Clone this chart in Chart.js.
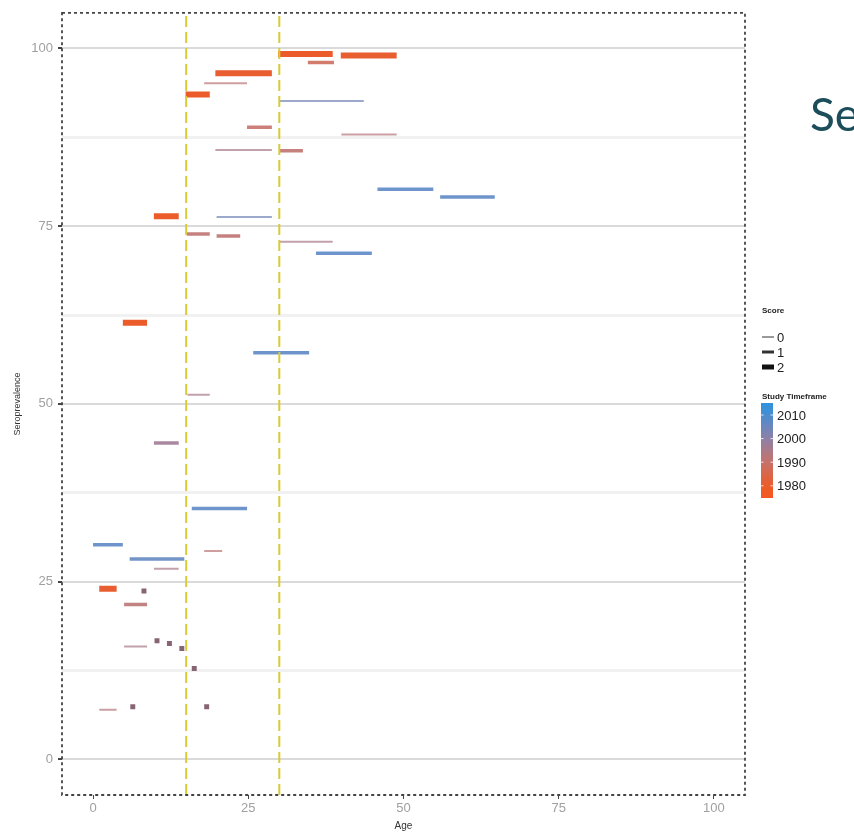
<!DOCTYPE html>
<html>
<head>
<meta charset="utf-8">
<script src="https://cdn.jsdelivr.net/npm/chart.js@4.4.0/dist/chart.umd.min.js"></script>
<style>
  html, body { margin: 0; padding: 0; background: #fff; }
  #wrap { position: relative; width: 854px; height: 834px; overflow: hidden; }
</style>
</head>
<body>
<div id="wrap"><canvas id="seroChart" width="854" height="834"></canvas></div>
<script>
// --- data ---
// one horizontal segment per age band of a study
const ageStart  = [29.8, 39.9, 34.6, 19.7, 17.9, 14.9, 30.1, 24.8, 40.0, 19.7, 30.0, 45.8, 55.9, 9.8, 19.9, 15.1, 19.9, 30.1, 35.9, 4.8, 25.8, 15.2, 9.8, 15.9, 0.0, 17.9, 5.9, 9.8, 1.0, 5.0, 5.0, 1.0];
const ageEnd    = [38.6, 48.9, 38.8, 28.8, 24.8, 18.8, 43.6, 28.8, 48.9, 28.8, 33.8, 54.8, 64.7, 13.8, 28.8, 18.8, 23.7, 38.6, 44.9, 8.7, 34.8, 18.8, 13.8, 24.8, 4.8, 20.8, 14.7, 13.8, 3.8, 8.7, 8.7, 3.8];
const seroprev  = [99.2, 99.0, 98.0, 96.5, 95.1, 93.5, 92.6, 88.9, 87.9, 85.7, 85.6, 80.2, 79.1, 76.4, 76.3, 73.9, 73.6, 72.8, 71.2, 61.4, 57.2, 51.3, 44.5, 35.3, 30.2, 29.3, 28.2, 26.8, 24.0, 21.8, 15.9, 7.0];
const score     = [2, 2, 1, 2, 0, 2, 0, 1, 0, 0, 1, 1, 1, 2, 0, 1, 1, 0, 1, 2, 1, 0, 1, 1, 1, 0, 1, 0, 2, 1, 0, 0];
const studyYear = [1980, 1981, 1988, 1981, 1992, 1980, 2004, 1990, 1993, 1995, 1991, 2007, 2007, 1980, 2004, 1991, 1991, 1995, 2007, 1980, 2007, 1995, 1997, 2007, 2007, 1992, 2006, 1995, 1981, 1992, 1995, 1993];

// single-age estimates (drawn as dots)
const pointAge  = [8.2, 10.3, 12.3, 14.3, 16.3, 6.4, 18.3];
const pointSero = [23.7, 16.7, 16.3, 15.6, 12.8, 7.4, 7.4];
const pointYear = [1996, 1996, 1996, 1996, 1996, 1996, 1996];

const cutoffAges = [15, 30];
const majorTicks = [0, 25, 50, 75, 100];
const minorTicks = [12.5, 37.5, 62.5, 87.5];
const scoreLevels = [0, 1, 2];
const yearLabels = [2010, 2000, 1990, 1980];

// --- styling helpers ---
const FONT = "'Liberation Sans', Arial, sans-serif";
const colourStops = [
  [1975, [242, 88, 32]],
  [1980, [236, 92, 42]],
  [1990, [198, 114, 106]],
  [2000, [142, 128, 166]],
  [2010, [72, 141, 210]],
  [2016, [40, 148, 222]]
];
function yearColour(y, alpha = 1, shade = 1) {
  let i = 0;
  while (i < colourStops.length - 2 && y > colourStops[i + 1][0]) i++;
  const [y0, c0] = colourStops[i], [y1, c1] = colourStops[i + 1];
  const t = Math.max(0, Math.min(1, (y - y0) / (y1 - y0)));
  const c = c0.map((v, k) => Math.round((v + (c1[k] - v) * t) * shade));
  return `rgba(${c[0]},${c[1]},${c[2]},${alpha})`;
}
const scoreWidth = s => [2, 3.5, 6][s];
const scoreAlpha = s => [0.7, 0.9, 1][s];

// --- datasets ---
const segmentSets = ageStart.map((a, i) => ({
  data: [{ x: a, y: seroprev[i] }, { x: ageEnd[i], y: seroprev[i] }],
  showLine: true,
  borderColor: yearColour(studyYear[i], scoreAlpha(score[i])),
  borderWidth: scoreWidth(score[i]),
  borderCapStyle: 'butt',
  pointRadius: 0,
  order: 2 - score[i]
}));

const pointSet = {
  data: pointAge.map((a, i) => ({ x: a, y: pointSero[i] })),
  pointStyle: 'rect',
  pointRadius: 3.5,
  pointBackgroundColor: pointYear.map(y => yearColour(y, 1, 0.82)),
  pointBorderWidth: 0,
  showLine: false
};

const cutoffSets = cutoffAges.map(a => ({
  data: [{ x: a, y: -5 }, { x: a, y: 105 }],
  showLine: true,
  borderColor: '#d9cb35',
  borderWidth: 2,
  borderDash: [11, 5],
  pointRadius: 0,
  order: -1
}));

// frame, axis titles, legend and the cut-off heading
const decorPlugin = {
  id: 'decor',
  afterDraw(chart) {
    const ctx = chart.ctx;
    const a = chart.chartArea;
    ctx.save();

    // dashed panel border
    ctx.strokeStyle = '#444';
    ctx.lineWidth = 1.8;
    ctx.setLineDash([3, 3]);
    ctx.strokeRect(a.left, a.top, a.right - a.left, a.bottom - a.top);
    ctx.setLineDash([]);

    // axis titles
    ctx.fillStyle = '#333';
    ctx.textAlign = 'center';
    ctx.textBaseline = 'middle';
    ctx.font = `10px ${FONT}`;
    ctx.fillText('Age', (chart.scales.x.getPixelForValue(50)), 826);
    ctx.save();
    ctx.translate(18, (a.top + a.bottom) / 2);
    ctx.rotate(-Math.PI / 2);
    ctx.font = `9px ${FONT}`;
    ctx.fillText('Seroprevalence', 0, 0);
    ctx.restore();

    // score legend
    ctx.textAlign = 'left';
    ctx.fillStyle = '#222';
    ctx.font = `bold 8px ${FONT}`;
    ctx.fillText('Score', 762, 311);
    scoreLevels.forEach((s, i) => {
      const y = 337 + i * 15;
      ctx.strokeStyle = ['#777', '#333', '#111'][s];
      ctx.lineWidth = [1.5, 3, 5][s];
      ctx.beginPath();
      ctx.moveTo(762, y);
      ctx.lineTo(774, y);
      ctx.stroke();
      ctx.font = `13px ${FONT}`;
      ctx.fillText(String(s), 777, y + 1);
    });

    // colour bar legend
    ctx.font = `bold 8px ${FONT}`;
    ctx.fillText('Study Timeframe', 762, 397);
    const barTop = 403, barBot = 498, barX = 761, barW = 12;
    const yOf = yr => 415 + (2010 - yr) * 2.36;
    const yrTop = 2010 + (415 - barTop) / 2.36, yrBot = 2010 - (barBot - 415) / 2.36;
    const grad = ctx.createLinearGradient(0, barTop, 0, barBot);
    for (let k = 0; k <= 10; k++) {
      grad.addColorStop(k / 10, yearColour(yrTop + (yrBot - yrTop) * k / 10));
    }
    ctx.fillStyle = grad;
    ctx.fillRect(barX, barTop, barW, barBot - barTop);
    ctx.strokeStyle = 'rgba(255,255,255,0.8)';
    ctx.lineWidth = 1;
    yearLabels.forEach(yr => {
      const y = yOf(yr);
      ctx.beginPath();
      ctx.moveTo(barX, y); ctx.lineTo(barX + 2.5, y);
      ctx.moveTo(barX + barW - 2.5, y); ctx.lineTo(barX + barW, y);
      ctx.stroke();
      ctx.fillStyle = '#222';
      ctx.font = `13px ${FONT}`;
      ctx.fillText(String(yr), 777, y + 1);
    });

    // slide heading, cut off at the right edge
    ctx.fillStyle = '#1c4d5a';
    ctx.font = "46px Lato, 'Noto Sans', sans-serif";
    ctx.textBaseline = 'alphabetic';
    ctx.fillText('Serop', 810, 131);
    ctx.restore();
  }
};

new Chart(document.getElementById('seroChart'), {
  type: 'scatter',
  data: { datasets: [...cutoffSets, ...segmentSets, pointSet] },
  options: {
    responsive: false,
    animation: false,
    layout: { padding: { top: 8, right: 109, left: 0, bottom: 0 } },
    plugins: { legend: { display: false }, tooltip: { enabled: false } },
    scales: {
      x: {
        type: 'linear', min: -5, max: 105,
        afterBuildTicks: s => { s.ticks = majorTicks.map(v => ({ value: v })); },
        afterFit: s => { s.height = 39; },
        border: { display: false },
        grid: { drawOnChartArea: false, tickLength: 4, tickColor: '#444' },
        ticks: { color: '#a0a0a0', padding: 2, autoSkip: false, maxRotation: 0, font: { family: FONT, size: 13 } }
      },
      y: {
        type: 'linear', min: -5, max: 105,
        afterBuildTicks: s => {
          s.ticks = [...majorTicks, ...minorTicks].sort((p, q) => p - q).map(v => ({ value: v }));
        },
        afterFit: s => { s.width = 62; },
        border: { display: false },
        grid: {
          color: c => majorTicks.includes(c.tick.value) ? '#dadada' : '#f1f1f1',
          lineWidth: c => majorTicks.includes(c.tick.value) ? 2 : 3,
          tickColor: c => majorTicks.includes(c.tick.value) ? '#444' : 'rgba(0,0,0,0)',
          tickLength: 4
        },
        ticks: {
          color: '#a0a0a0', padding: 5, autoSkip: false,
          font: { family: FONT, size: 13 },
          callback: v => majorTicks.includes(v) ? String(v) : ''
        }
      }
    }
  },
  plugins: [decorPlugin]
});
</script>
</body>
</html>
